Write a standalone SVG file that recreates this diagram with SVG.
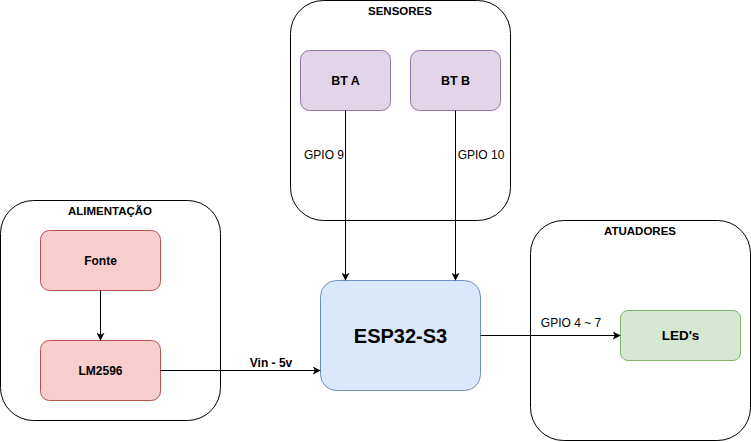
<svg xmlns="http://www.w3.org/2000/svg" width="751" height="442" viewBox="0 0 751 442">
<style>
text{font-family:"Liberation Sans",Arial,sans-serif;fill:#000;text-anchor:middle;dominant-baseline:central}
.b{font-weight:bold}
.cont{fill:#fff;stroke:#000;stroke-width:1}
.line{fill:none;stroke:#000;stroke-width:1}
</style>
<defs>
<marker id="arr" viewBox="0 0 10 10" refX="9" refY="5" markerWidth="8" markerHeight="8" markerUnits="userSpaceOnUse" orient="auto">
<path d="M0,0 L10,5 L0,10 L2.5,5 Z" fill="#000"/>
</marker>
</defs>
<rect width="751" height="442" fill="#fff"/>
<g id="sensores">
<rect class="cont" x="290.5" y="0.5" width="220" height="220" rx="33"/>
<text class="b" x="400" y="11" font-size="11.5">SENSORES</text>
</g>
<g id="alimentacao">
<rect class="cont" x="0.5" y="200.5" width="220" height="220" rx="33"/>
<text class="b" x="110" y="211" font-size="11.5">ALIMENTAÇÃO</text>
</g>
<g id="atuadores">
<rect class="cont" x="530.5" y="220.5" width="220" height="220" rx="33"/>
<text class="b" x="640" y="231" font-size="11.5">ATUADORES</text>
</g>
<g id="bta">
<rect x="300.5" y="50.5" width="90" height="60" rx="9" fill="#e1d5e7" stroke="#9673a6"/>
<text class="b" x="345.5" y="80.5" font-size="12.5">BT A</text>
</g>
<g id="btb">
<rect x="410.5" y="50.5" width="90" height="60" rx="9" fill="#e1d5e7" stroke="#9673a6"/>
<text class="b" x="455.5" y="80.5" font-size="12.5">BT B</text>
</g>
<g id="fonte">
<rect x="40.5" y="230.5" width="120" height="60" rx="9" fill="#f8cecc" stroke="#b85450"/>
<text class="b" x="100.5" y="260.5" font-size="12">Fonte</text>
</g>
<g id="lm2596">
<rect x="40.5" y="340.5" width="120" height="60" rx="9" fill="#f8cecc" stroke="#b85450"/>
<text class="b" x="100.5" y="370.5" font-size="12">LM2596</text>
</g>
<g id="esp">
<rect x="320.5" y="280.5" width="160" height="110" rx="16" fill="#dae8fc" stroke="#6c8ebf"/>
<text class="b" x="400.5" y="335.5" font-size="20">ESP32-S3</text>
</g>
<g id="leds">
<rect x="620.5" y="310.5" width="120" height="50" rx="7.5" fill="#d5e8d4" stroke="#82b366"/>
<text class="b" x="680.5" y="335.5" font-size="13.5">LED's</text>
</g>
<g id="connectors">
<path class="line" d="M345.5,110.5 V280" marker-end="url(#arr)"/>
<path class="line" d="M455.5,110.5 V280" marker-end="url(#arr)"/>
<path class="line" d="M100.5,290.5 V340" marker-end="url(#arr)"/>
<path class="line" d="M160.5,370.5 H320" marker-end="url(#arr)"/>
<path class="line" d="M480.5,335.5 H620" marker-end="url(#arr)"/>
<text x="324" y="155" font-size="12">GPIO 9</text>
<text x="481" y="155" font-size="12">GPIO 10</text>
<text class="b" x="271" y="363" font-size="12">Vin - 5v</text>
<text x="571" y="323" font-size="12">GPIO 4 ~ 7</text>
</g>
</svg>
